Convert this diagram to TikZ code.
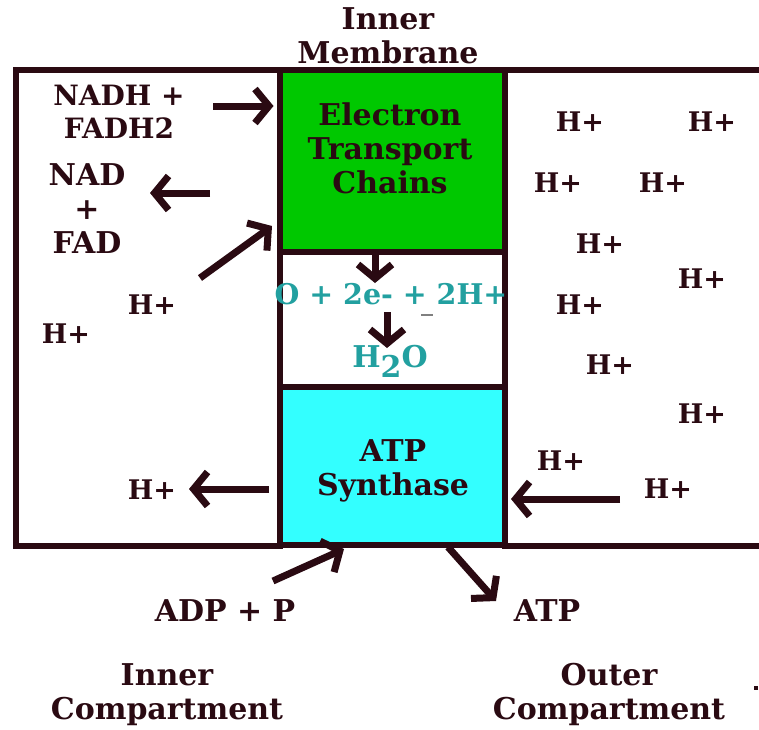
\documentclass[tikz,border=0pt]{standalone}
\usepackage{fontspec}
\setmainfont{DejaVu Serif}
\usetikzlibrary{arrows.meta}
\definecolor{ink}{HTML}{2A0A12}
\definecolor{etcgreen}{HTML}{00C800}
\definecolor{atpcyan}{HTML}{33FFFF}
\definecolor{teal}{HTML}{22A0A0}
\tikzset{
  wall/.style={draw=ink, line width=6pt, inner sep=0pt, outer sep=0pt, minimum width=225pt, anchor=north west},
  lbl/.style={text=ink, inner sep=0pt, align=center, anchor=base, font=\bfseries\fontsize{30}{34}\selectfont},
  midlbl/.style={lbl, font=\bfseries\fontsize{28}{33}\selectfont},
  hp/.style={lbl, font=\bfseries\fontsize{27}{33}\selectfont},
  eq/.style={lbl, text=teal, font=\bfseries\fontsize{28.5}{33}\selectfont},
  arr/.style={draw=ink, line width=7pt, -{Straight Barb[length=14pt, width=34pt, line width=7pt]}}
}
\begin{document}
\begin{tikzpicture}[x=1pt, y=-1pt]
\useasboundingbox (0,0) rectangle (759,729);
\fill[white] (0,0) rectangle (759,729);
% compartments
\node[draw=ink, line width=6pt, inner sep=0pt, outer sep=0pt, minimum width=264pt, minimum height=475.5pt, anchor=north west] (inner) at (15.5,70) {};
\draw[ink, line width=6pt] (759,70) -- (504.5,70) -- (504.5,545.5) -- (759,545.5);
% membrane column
\node[wall, fill=etcgreen, minimum height=181.5pt] (etc) at (279.5,70) {};
\node[wall, fill=white, minimum height=135.5pt] (mid) at (279.5,251.5) {};
\node[wall, fill=atpcyan, minimum height=157.5pt] (atp) at (279.5,387) {};
% titles
\node[lbl] (memb) at (388,63) {Inner\\Membrane};
\node[lbl] (etclbl) at (390,193) {Electron\\Transport\\Chains};
\node[lbl] (atplbl) at (393,495) {ATP\\Synthase};
\node[lbl] (incomp) at (167,719) {Inner\\Compartment};
\node[lbl] (outcomp) at (609,719) {Outer\\Compartment};
\fill[ink] (754,686) rectangle (758,690);
% left labels
\node[midlbl] (nadh) at (119,138) {NADH +\\FADH2};
\node[lbl] (nad) at (87,253) {NAD\\+\\FAD};
\node[hp] (hl1) at (152,314) {H+};
\node[hp] (hl2) at (66,343) {H+};
\node[hp] (hl3) at (152,499) {H+};
% right labels
\node[hp] (hr1) at (580,131) {H+};
\node[hp] (hr2) at (712,131) {H+};
\node[hp] (hr3) at (558,192) {H+};
\node[hp] (hr4) at (663,192) {H+};
\node[hp] (hr5) at (600,253) {H+};
\node[hp] (hr6) at (702,288) {H+};
\node[hp] (hr7) at (580,314) {H+};
\node[hp] (hr8) at (610,374) {H+};
\node[hp] (hr9) at (702,423) {H+};
\node[hp] (hr10) at (561,470) {H+};
\node[hp] (hr11) at (668,498) {H+};
% reaction
\node[eq] (react) at (391,304) {O + 2e- + 2H+};
\draw[gray, line width=1.5pt] (421,315) -- (433,315);
\node[eq, font=\bfseries\fontsize{30}{33}\selectfont] (water) at (390,367) {H\raisebox{-10pt}{2}O};
% bottom labels
\node[lbl] (adp) at (225,621) {ADP + P};
\node[lbl] (atpout) at (547,621) {ATP};
% arrow anchor coordinates
\coordinate (a1s) at (213,106);
\coordinate (a2s) at (210,193);
\coordinate (a2e) at (150,193);
\coordinate (a3s) at (200,278);
\coordinate (a3e) at (272,226);
\coordinate (a5s) at (387,312);
\coordinate (a5e) at (387,348);
\coordinate (a6s) at (269,489);
\coordinate (a6e) at (189,489);
\coordinate (a7s) at (620,499);
\coordinate (a7e) at (511,499);
\coordinate (a8s) at (273,581);
\coordinate (a8e) at (344,549);
\coordinate (a9s) at (448,547);
\coordinate (a9e) at (496,601);
% arrows
\draw[arr] (a1s) -- (a1s -| etc.west) [shorten >=6pt];
\draw[arr] (a2s) -- (a2e);
\draw[arr] (a3s) -- (a3e);
\draw[arr] (etc.south -| 375,0) -- (375,283);
\draw[arr] (a5s) -- (a5e);
\draw[arr] (a6s) -- (a6e);
\draw[arr] (a7s) -- (a7e);
\draw[arr] (a8s) -- (a8e);
\draw[arr] (a9s) -- (a9e);
\end{tikzpicture}
\end{document}
